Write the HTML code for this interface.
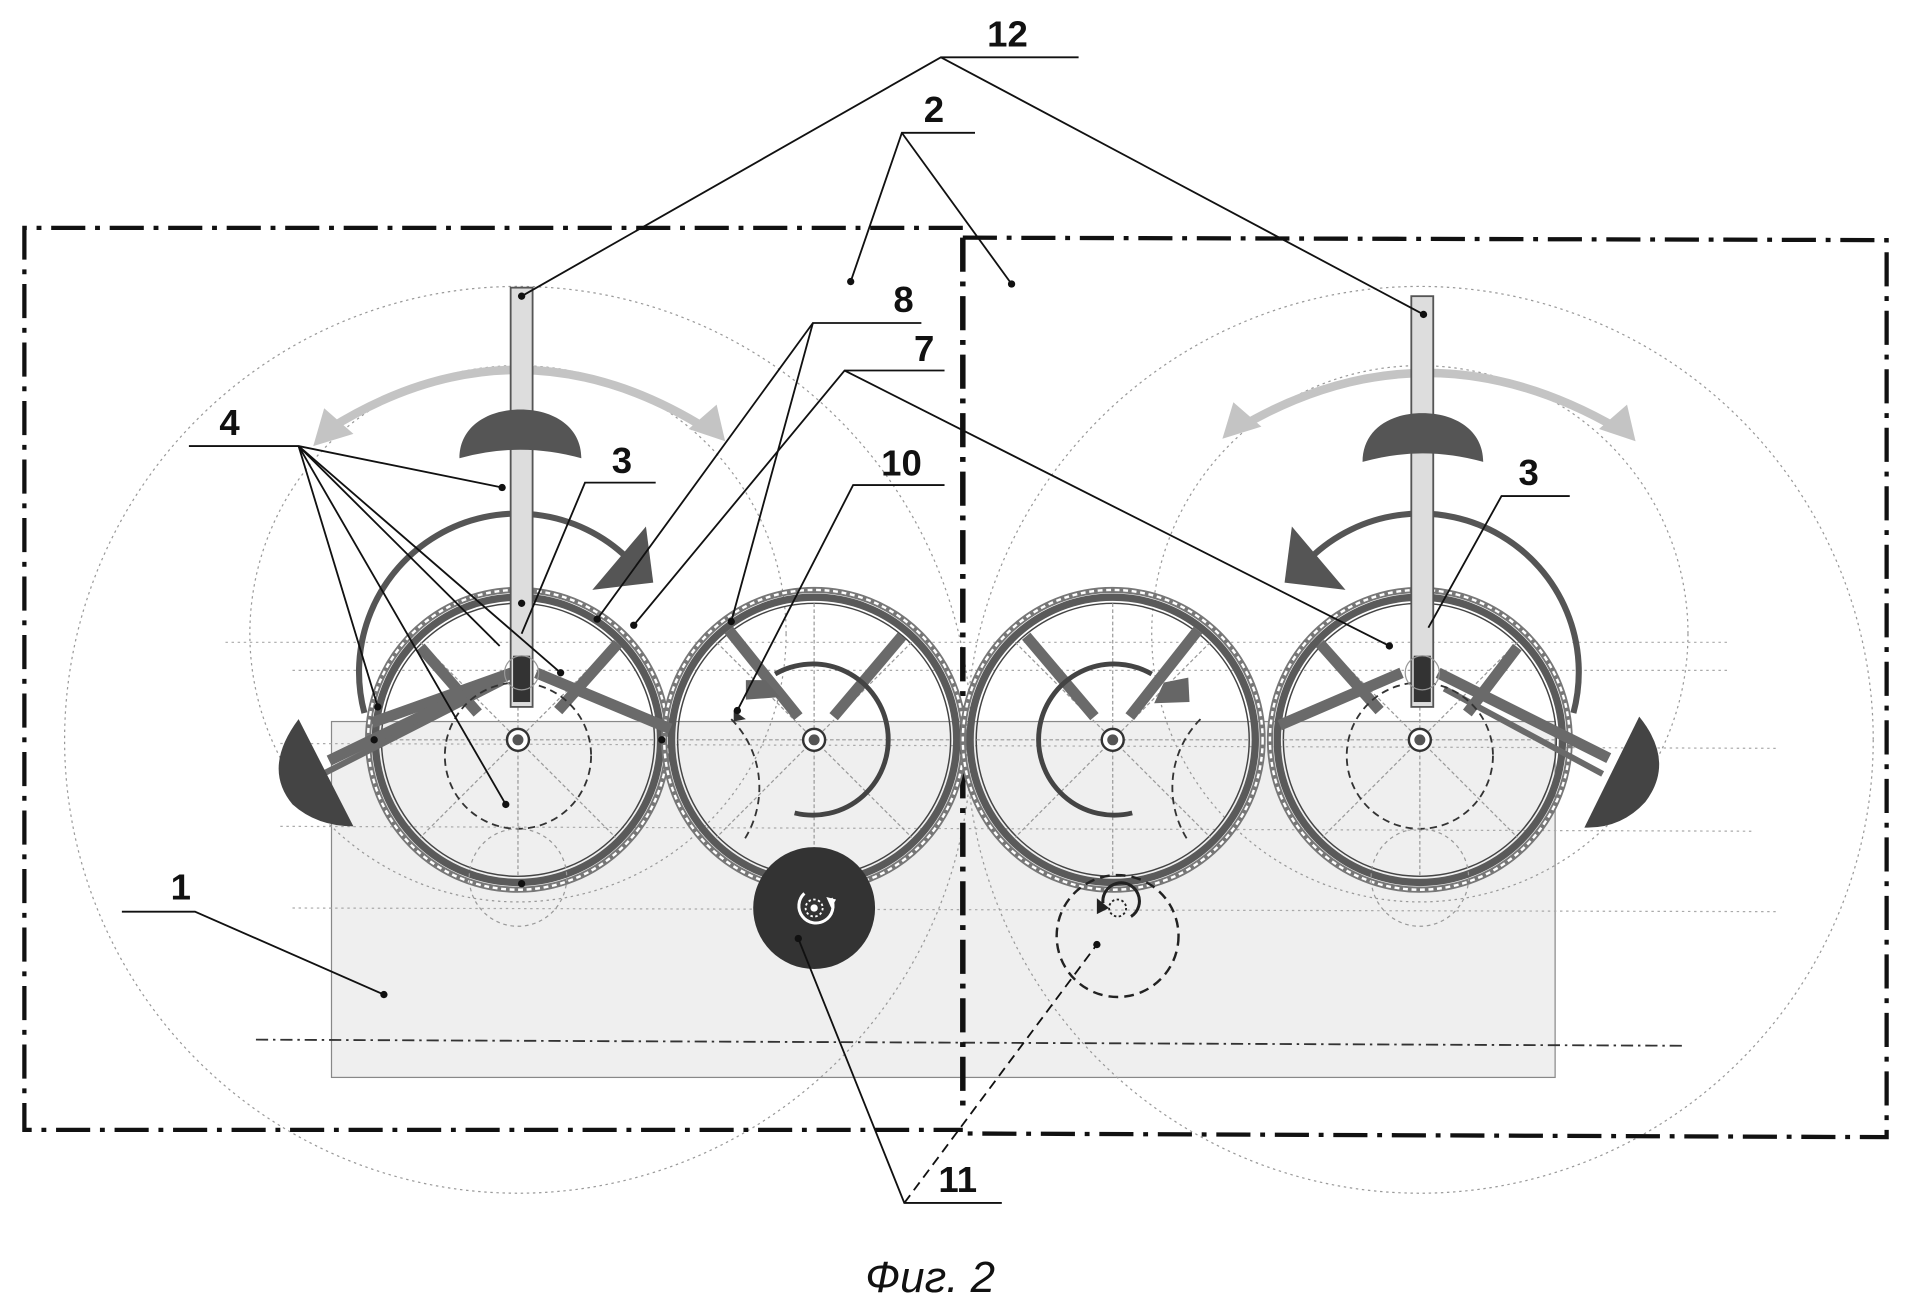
<!DOCTYPE html>
<html><head><meta charset="utf-8"><style>
html,body{margin:0;padding:0;background:#fff;}
svg{display:block;}
text{font-family:"Liberation Sans",sans-serif;font-weight:bold;font-size:30px;fill:#111;}
</style></head><body>
<svg width="1911" height="1309" viewBox="0 0 1568 1074" preserveAspectRatio="none" xmlns="http://www.w3.org/2000/svg">
<defs>
<g id="wheel">
 <circle r="123" fill="none" stroke="#777" stroke-width="5"/>
 <circle r="123" fill="none" stroke="#fff" stroke-width="2" stroke-dasharray="4 3"/>
 <circle r="117" fill="none" stroke="#5a5a5a" stroke-width="6"/>
 <circle r="112" fill="none" stroke="#444" stroke-width="1.2"/>
 <g stroke="#999" stroke-width="1" stroke-dasharray="3 2">
 <line x1="-80" y1="-80" x2="80" y2="80"/>
 <line x1="80" y1="-80" x2="-80" y2="80"/>
 <line x1="-112" y1="0" x2="112" y2="0"/>
 <line x1="0" y1="-112" x2="0" y2="112"/>
 </g>
 <circle r="9" fill="#fff" stroke="#333" stroke-width="2"/>
 <circle r="4.5" fill="#555"/>
</g>
</defs>

<rect x="272" y="592" width="1004" height="292" fill="#efefef" stroke="#888" stroke-width="1"/>
<line x1="210" y1="853" x2="1380" y2="858" stroke="#333" stroke-width="1.5" stroke-dasharray="10 4 2 4"/>
<g stroke="#aaa" stroke-width="1" stroke-dasharray="2 3">
<line x1="185" y1="527" x2="1420" y2="527"/>
<line x1="240" y1="550" x2="1420" y2="550"/>
<line x1="230" y1="610" x2="1460" y2="614"/>
<line x1="230" y1="678" x2="1440" y2="682"/>
<line x1="240" y1="745" x2="1460" y2="748"/>
</g>

<g fill="none" stroke="#999" stroke-width="1" stroke-dasharray="2 3">
<circle cx="425" cy="607" r="372"/>
<circle cx="1165" cy="607" r="372"/>
<circle cx="425" cy="520" r="220"/>
<circle cx="1165" cy="520" r="220"/>
</g>

<g fill="none" stroke="#111" stroke-width="3.5" stroke-dasharray="28 8 4 8">
<path d="M790,187 L20,187 L20,927 L790,927"/>
<path d="M790,195 L1548,197 L1548,933 L790,930"/>
<line x1="790" y1="195" x2="790" y2="915" stroke-width="4.5"/>
</g>

<use href="#wheel" x="425" y="607"/>
<use href="#wheel" x="668" y="607"/>
<use href="#wheel" x="913" y="607"/>
<use href="#wheel" x="1165" y="607"/>

<g stroke="#6a6a6a" stroke-width="9" fill="none">
<line x1="345" y1="531" x2="392" y2="585"/>
<line x1="507" y1="528" x2="458" y2="583"/>
<line x1="305" y1="593" x2="420" y2="552"/>
<line x1="440" y1="552" x2="550" y2="598"/>
<line x1="420" y1="552" x2="270" y2="624"/>
<line x1="412" y1="560" x2="265" y2="635" stroke-width="5"/>
<line x1="1083" y1="528" x2="1132" y2="583"/>
<line x1="1245" y1="531" x2="1204" y2="585"/>
<line x1="1050" y1="595" x2="1150" y2="552"/>
<line x1="1180" y1="552" x2="1320" y2="622"/>
<line x1="1185" y1="565" x2="1315" y2="635" stroke-width="5"/>
<line x1="598" y1="517" x2="655" y2="588"/>
<line x1="740" y1="522" x2="684" y2="588"/>
<line x1="842" y1="522" x2="898" y2="588"/>
<line x1="983" y1="517" x2="927" y2="588"/>
</g>
<path d="M612,558 L628,558 L640,572 L612,574 z" fill="#666"/>
<path d="M955,560 L975,556 L976,576 L947,577 z" fill="#666"/>
<path d="M602,583 L612,590 L602,592 z" fill="#333"/>
<g fill="none" stroke="#444" stroke-width="4">
<path d="M636,553 A62,62 0 1 1 652,667"/>
<path d="M945,553 A62,62 0 1 0 929,667"/>
</g>
<g fill="none" stroke="#333" stroke-width="1.5" stroke-dasharray="6 4">
<circle cx="425" cy="620" r="60"/><circle cx="1165" cy="620" r="60"/>
<path d="M600,590 A80,80 0 0 1 610,690"/>
<path d="M985,590 A80,80 0 0 0 975,690"/>
</g>
<g fill="none" stroke="#999" stroke-width="1" stroke-dasharray="3 3">
<circle cx="425" cy="720" r="40"/><circle cx="1165" cy="720" r="40"/>
</g>

<!-- big rotation arrows -->
<path d="M299,585 A130,130 0 0 1 515,458" fill="none" stroke="#555" stroke-width="5"/>
<path d="M530,432 L536,478 L486,484 z" fill="#555"/>
<path d="M1291,585 A130,130 0 0 0 1075,458" fill="none" stroke="#555" stroke-width="5"/>
<path d="M1060,432 L1054,478 L1104,484 z" fill="#555"/>

<path d="M270,352 Q425,255 580,352" fill="none" stroke="#c4c4c4" stroke-width="7"/>
<path d="M257,366 L266,335 L290,356 z" fill="#c4c4c4"/>
<path d="M595,362 L588,332 L565,352 z" fill="#c4c4c4"/>
<path d="M1015,352 Q1170,260 1328,352" fill="none" stroke="#c4c4c4" stroke-width="7"/>
<path d="M1003,360 L1012,330 L1035,350 z" fill="#c4c4c4"/>
<path d="M1342,362 L1335,332 L1312,352 z" fill="#c4c4c4"/>

<rect x="419" y="236" width="18" height="344" fill="#ddd" stroke="#555" stroke-width="1.5"/>
<rect x="1158" y="243" width="18" height="337" fill="#ddd" stroke="#555" stroke-width="1.5"/>
<rect x="421" y="538" width="14" height="38" fill="#333"/>
<rect x="1160" y="538" width="14" height="38" fill="#333"/>
<circle cx="428" cy="552" r="14" fill="none" stroke="#999" stroke-width="1"/>
<circle cx="1167" cy="552" r="14" fill="none" stroke="#999" stroke-width="1"/>
<!-- top dome weights -->
<path d="M377,376 C377,350 400,336 427,336 C454,336 477,350 477,376 Q427,362 377,376 z" fill="#555"/>
<path d="M1118,379 C1118,353 1140,339 1167,339 C1194,339 1217,353 1217,379 Q1167,365 1118,379 z" fill="#555"/>
<path d="M290,678 L245,590 Q215,630 240,660 Q260,678 290,678 z" fill="#444"/>
<path d="M1300,679 L1345,588 Q1375,625 1350,658 Q1330,680 1300,679 z" fill="#444"/>

<circle cx="668" cy="745" r="50" fill="#333"/>
<path d="M660,733 A14,14 0 1 0 682,737" fill="none" stroke="#fff" stroke-width="2.5"/>
<path d="M678,736 L686,738 L682,745 z" fill="#fff"/>
<circle cx="668" cy="745" r="7" fill="none" stroke="#fff" stroke-width="1.5" stroke-dasharray="2 2"/>
<circle cx="668" cy="745" r="3" fill="#fff"/>
<circle cx="917" cy="768" r="50" fill="none" stroke="#222" stroke-width="2" stroke-dasharray="8 5"/>
<path d="M928,752 A15,15 0 1 0 905,741" fill="none" stroke="#222" stroke-width="2.5"/>
<path d="M900,737 L910,745 L900,750 z" fill="#222"/>
<circle cx="917" cy="745" r="7" fill="none" stroke="#222" stroke-width="1.5" stroke-dasharray="2 2"/>

<g stroke="#111" stroke-width="1.5" fill="none">
<polyline points="885,47 772,47 428,243"/>
<line x1="772" y1="47" x2="1168" y2="258"/>
<polyline points="800,109 740,109 698,231"/>
<line x1="740" y1="109" x2="830" y2="233"/>
<polyline points="756,265 667,265 490,508"/>
<line x1="667" y1="265" x2="600" y2="510"/>
<polyline points="775,304 693,304 520,513"/>
<line x1="693" y1="304" x2="1140" y2="530"/>
<polyline points="775,398 700,398 605,583"/>
<polyline points="155,366 245,366 412,400"/>
<line x1="245" y1="366" x2="310" y2="580"/>
<line x1="245" y1="366" x2="415" y2="660"/>
<line x1="245" y1="366" x2="410" y2="530"/>
<line x1="245" y1="366" x2="460" y2="552"/>
<polyline points="538,396 480,396 428,520"/>
<polyline points="1288,407 1232,407 1172,515"/>
<polyline points="100,748 160,748 315,816"/>
<polyline points="822,987 742,987 655,770"/>
<line x1="742" y1="987" x2="900" y2="775" stroke-dasharray="8 5"/>
</g>
<g fill="#111">
<circle cx="428" cy="243" r="3"/><circle cx="1168" cy="258" r="3"/>
<circle cx="698" cy="231" r="3"/><circle cx="830" cy="233" r="3"/>
<circle cx="490" cy="508" r="3"/><circle cx="600" cy="510" r="3"/>
<circle cx="520" cy="513" r="3"/><circle cx="1140" cy="530" r="3"/>
<circle cx="605" cy="583" r="3"/><circle cx="315" cy="816" r="3"/>
<circle cx="310" cy="580" r="3"/><circle cx="415" cy="660" r="3"/>
<circle cx="460" cy="552" r="3"/><circle cx="412" cy="400" r="3"/>
<circle cx="655" cy="770" r="3"/><circle cx="900" cy="775" r="3"/>
<circle cx="428" cy="725" r="3"/><circle cx="428" cy="495" r="3"/>
<circle cx="307" cy="607" r="3"/><circle cx="543" cy="607" r="3"/>
</g>

<text x="810" y="38">12</text>
<text x="758" y="100">2</text>
<text x="733" y="256">8</text>
<text x="750" y="296">7</text>
<text x="723" y="390">10</text>
<text x="180" y="357">4</text>
<text x="502" y="388">3</text>
<text x="1246" y="398">3</text>
<text x="140" y="738">1</text>
<text x="770" y="978">11</text>
<text x="710" y="1060" style="font-style:italic;font-weight:normal;font-size:36px">Фиг. 2</text>
</svg>
</body></html>
